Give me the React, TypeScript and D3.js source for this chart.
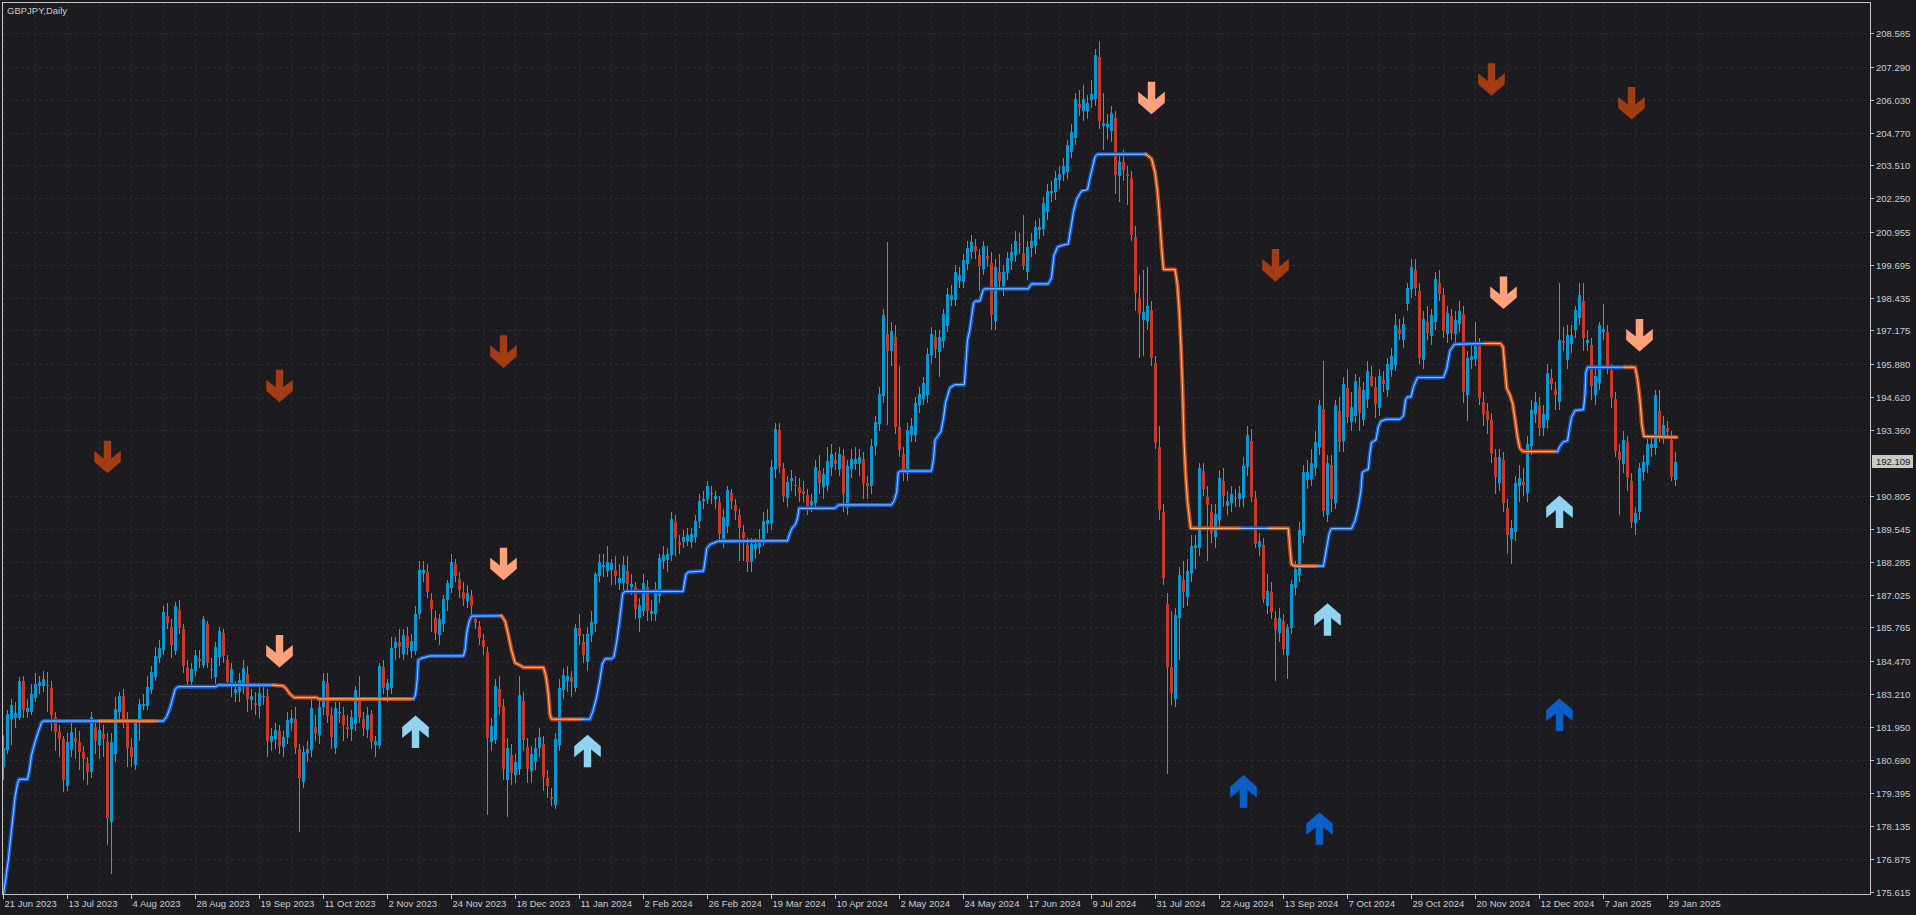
import * as d3 from "d3";

const WIDTH = 1916;
const HEIGHT = 915;
const plot = { left: 3, top: 3, right: 1870, bottom: 894 };

const title = "GBPJPY,Daily";

// one date label every 16 daily bars, starting at the first bar
const dateLabels = [
  "21 Jun 2023", "13 Jul 2023", "4 Aug 2023", "28 Aug 2023", "19 Sep 2023", "11 Oct 2023",
  "2 Nov 2023", "24 Nov 2023", "18 Dec 2023", "11 Jan 2024", "2 Feb 2024", "26 Feb 2024",
  "19 Mar 2024", "10 Apr 2024", "2 May 2024", "24 May 2024", "17 Jun 2024", "9 Jul 2024",
  "31 Jul 2024", "22 Aug 2024", "13 Sep 2024", "7 Oct 2024", "29 Oct 2024", "20 Nov 2024",
  "12 Dec 2024", "7 Jan 2025", "29 Jan 2025",
];
const barsPerLabel = 16;

const priceTicks = [
  208.585, 207.29, 206.03, 204.77, 203.51, 202.25, 200.955, 199.695, 198.435, 197.175,
  195.88, 194.62, 193.36, 190.805, 189.545, 188.285, 187.025, 185.765, 184.47, 183.21,
  181.95, 180.69, 179.395, 178.135, 176.875, 175.615,
];
const lastPrice = 192.109;

// daily candles, oldest first: [open, high, low, close]
const candles: [number, number, number, number][] = [
  // 0
  [180.39, 181.63, 179.9, 181.12], [181.06, 182.6, 180.9, 182.43], [182.23, 183.0, 181.25, 182.78],
  [182.3, 182.9, 181.9, 182.46], [182.3, 183.85, 182.2, 183.71], [183.71, 183.9, 182.3, 182.59],
  [182.53, 183.0, 182.3, 182.66], [182.53, 183.6, 182.4, 183.21], [183.07, 184.0, 182.9, 183.58],
  [183.53, 183.9, 183.2, 183.68], [183.53, 184.1, 183.3, 183.77], [183.55, 184.04, 182.5, 183.51],
  [183.45, 183.7, 181.8, 182.4], [182.32, 182.5, 181.0, 181.76], [181.76, 182.0, 180.8, 181.49],
  [181.48, 181.6, 179.45, 179.9], [179.67, 181.7, 179.5, 181.37], [181.05, 182.1, 180.8, 181.75],
  [181.5, 181.9, 180.7, 181.35], [181.37, 181.8, 180.3, 180.99],
  // 20
  [180.99, 181.2, 179.9, 180.7], [180.57, 180.8, 179.7, 180.22], [180.22, 182.5, 180.0, 182.34],
  [181.94, 182.1, 180.9, 181.42], [181.25, 182.1, 180.7, 181.82], [181.68, 182.0, 180.8, 181.48],
  [181.36, 181.7, 177.4, 178.46], [178.3, 181.7, 176.3, 181.36], [180.92, 183.1, 180.6, 182.63],
  [182.53, 183.3, 182.2, 183.13], [183.13, 183.4, 181.9, 182.25], [182.25, 182.5, 180.4, 181.12],
  [181.17, 181.5, 180.4, 180.77], [180.48, 182.2, 180.3, 182.14], [182.14, 183.0, 181.4, 182.82],
  [182.76, 183.2, 182.6, 182.82], [182.76, 183.9, 182.6, 183.49], [183.36, 184.3, 183.2, 184.04],
  [183.87, 185.0, 183.7, 184.67], [184.58, 185.3, 184.4, 184.96],
  // 40
  [184.9, 186.6, 184.7, 186.37], [186.2, 186.7, 185.7, 185.92], [185.78, 186.1, 184.6, 185.09],
  [184.87, 186.75, 184.7, 186.59], [186.43, 186.8, 185.5, 185.73], [185.7, 185.9, 184.0, 184.3],
  [184.25, 184.5, 183.5, 183.71], [183.68, 184.4, 183.4, 184.16], [184.1, 184.9, 183.9, 184.7],
  [184.55, 184.9, 184.2, 184.47], [184.32, 186.2, 184.2, 186.09], [185.91, 186.0, 184.2, 184.41],
  [184.18, 184.6, 183.8, 184.12], [183.87, 185.2, 183.6, 185.01], [184.62, 185.8, 184.3, 185.63],
  [185.55, 185.7, 184.4, 184.68], [184.51, 184.7, 183.5, 183.68], [183.62, 184.4, 183.1, 184.17],
  [183.23, 183.7, 182.9, 183.39], [183.3, 184.0, 182.9, 183.75],
  // 60
  [183.62, 184.5, 183.2, 184.22], [183.98, 184.3, 182.5, 183.0], [182.98, 183.4, 182.6, 183.13],
  [182.85, 183.3, 182.4, 182.79], [182.74, 183.6, 182.3, 183.23], [183.1, 183.5, 182.8, 183.13],
  [183.13, 183.4, 180.8, 181.41], [181.38, 181.9, 181.0, 181.59], [181.47, 182.1, 181.1, 181.82],
  [181.78, 182.0, 180.9, 181.21], [181.18, 181.8, 180.8, 181.57], [181.57, 182.5, 181.3, 182.21],
  [182.08, 182.6, 181.8, 182.27], [182.25, 182.7, 180.9, 181.15], [181.08, 181.3, 177.92, 179.99],
  [179.84, 181.2, 179.58, 180.99], [180.95, 181.4, 180.6, 181.08], [181.06, 183.0, 180.8, 182.68],
  [181.95, 182.4, 181.4, 181.72], [181.63, 183.0, 181.3, 182.72],
  // 80
  [182.72, 184.0, 182.4, 183.71], [183.64, 184.0, 182.1, 182.36], [182.4, 182.7, 181.1, 181.57],
  [181.15, 182.9, 180.9, 182.68], [182.48, 182.9, 182.1, 182.53], [182.4, 182.7, 181.4, 182.02],
  [181.95, 182.4, 181.5, 181.88], [181.85, 182.6, 181.4, 182.31], [182.05, 183.5, 181.8, 183.36],
  [182.94, 183.9, 182.1, 182.3], [182.23, 182.5, 181.6, 181.89], [181.83, 182.7, 181.5, 182.4],
  [182.44, 182.6, 181.1, 181.37], [181.25, 181.6, 180.8, 181.41], [181.25, 184.4, 181.1, 184.28],
  [184.25, 184.5, 183.2, 183.42], [183.36, 183.8, 182.9, 183.62], [183.42, 185.4, 183.2, 184.96],
  [184.96, 185.4, 184.5, 185.21], [185.21, 185.7, 184.6, 185.02],
  // 100
  [184.74, 185.7, 184.5, 185.47], [185.43, 185.8, 184.7, 184.96], [184.86, 185.5, 184.6, 185.24],
  [184.87, 186.6, 184.7, 186.3], [186.3, 188.3, 186.1, 187.97], [187.84, 188.3, 187.5, 187.97],
  [187.9, 188.2, 186.9, 187.14], [186.82, 187.1, 185.6, 186.46], [186.11, 186.4, 185.3, 185.54],
  [185.47, 186.3, 185.1, 186.08], [185.9, 187.0, 185.6, 186.84], [186.82, 187.6, 186.4, 187.46],
  [187.27, 188.6, 187.1, 188.29], [188.22, 188.4, 187.5, 187.74], [187.61, 187.9, 186.9, 187.2],
  [187.14, 187.5, 186.6, 186.84], [186.79, 187.4, 186.5, 187.1], [186.97, 187.2, 186.3, 186.59],
  [186.08, 186.3, 185.7, 185.95], [185.82, 186.0, 185.1, 185.35],
  // 120
  [185.3, 185.5, 184.7, 185.02], [184.83, 185.0, 178.56, 181.5], [181.38, 182.3, 181.0, 181.98],
  [181.45, 183.8, 181.3, 183.5], [183.39, 183.9, 182.4, 182.7], [182.73, 183.0, 179.9, 180.32],
  [179.89, 181.5, 178.47, 181.12], [180.88, 181.3, 179.7, 180.19], [180.08, 180.9, 179.8, 180.61],
  [180.32, 183.9, 180.1, 183.17], [182.94, 183.3, 181.0, 181.45], [181.18, 181.5, 179.8, 180.32],
  [180.26, 181.2, 179.8, 180.91], [180.59, 181.5, 180.3, 181.14], [181.14, 181.9, 180.8, 181.54],
  [181.28, 181.6, 179.5, 180.03], [179.99, 180.3, 179.2, 179.66], [179.27, 179.6, 178.9, 179.19],
  [178.93, 181.7, 178.8, 181.47], [181.25, 183.8, 181.0, 183.43],
  // 140
  [183.37, 184.2, 183.0, 183.92], [183.7, 184.3, 183.3, 183.89], [183.87, 184.1, 183.1, 183.66],
  [183.43, 185.9, 183.3, 185.75], [185.75, 186.3, 185.1, 185.42], [185.19, 185.5, 184.4, 184.72],
  [184.42, 185.8, 184.1, 185.51], [185.46, 186.4, 185.2, 185.99], [185.88, 187.9, 185.6, 187.8],
  [187.73, 188.6, 187.5, 188.26], [188.1, 188.6, 187.7, 188.18], [187.93, 188.9, 187.7, 188.26],
  [187.97, 188.4, 187.4, 188.23], [187.97, 188.5, 187.4, 187.73], [187.49, 188.2, 187.2, 187.65],
  [187.47, 188.5, 187.2, 188.18], [187.93, 188.5, 187.1, 187.43], [187.3, 187.8, 187.0, 187.44],
  [187.33, 187.5, 186.1, 186.47], [186.14, 186.9, 185.6, 186.61],
  // 160
  [186.41, 187.8, 186.2, 187.47], [187.31, 187.6, 186.0, 186.41], [186.28, 186.8, 186.0, 186.41],
  [186.28, 187.5, 186.0, 187.23], [186.96, 188.6, 186.7, 188.42], [188.33, 188.9, 188.0, 188.53],
  [188.37, 188.8, 187.9, 188.59], [188.53, 190.2, 188.3, 189.92], [189.81, 190.1, 188.5, 189.21],
  [189.05, 189.3, 188.6, 188.92], [189.05, 189.5, 188.8, 189.25], [189.08, 189.6, 188.9, 189.32],
  [189.03, 189.6, 188.8, 189.35], [189.25, 190.1, 189.0, 189.85], [189.85, 190.9, 189.6, 190.62],
  [190.64, 191.0, 190.3, 190.71], [190.7, 191.4, 190.5, 191.2], [190.88, 191.2, 190.5, 190.93],
  [190.71, 191.0, 190.3, 190.8], [190.58, 190.8, 189.1, 189.35],
  // 180
  [189.16, 190.3, 188.8, 190.01], [189.65, 191.2, 189.4, 191.04], [190.93, 191.1, 190.3, 190.62],
  [190.48, 190.7, 189.9, 190.22], [190.08, 190.3, 188.3, 189.58], [189.42, 189.7, 188.3, 189.19],
  [188.92, 189.2, 187.9, 188.29], [188.29, 189.2, 187.9, 188.97], [188.76, 189.2, 188.4, 188.97],
  [188.86, 189.55, 188.6, 189.06], [189.14, 190.2, 188.9, 189.86], [189.72, 190.3, 189.4, 189.89],
  [189.76, 192.2, 189.5, 191.92], [191.86, 193.6, 191.5, 193.39], [193.35, 193.6, 191.7, 191.92],
  [191.89, 192.1, 190.6, 190.81], [190.72, 191.6, 190.4, 191.36], [191.39, 191.8, 191.0, 191.52],
  [191.25, 191.6, 190.8, 191.18], [191.14, 191.5, 190.6, 190.92],
  // 200
  [191.02, 191.4, 190.6, 190.89], [190.86, 191.1, 190.1, 190.42], [190.47, 190.9, 190.2, 190.64],
  [190.56, 192.2, 190.3, 191.92], [191.76, 192.4, 190.9, 191.31], [191.14, 191.9, 190.7, 191.64],
  [191.22, 192.7, 191.0, 192.14], [191.92, 192.8, 191.6, 192.42], [192.19, 192.5, 191.8, 192.05],
  [191.86, 192.7, 191.6, 192.42], [192.35, 192.6, 190.2, 190.89], [190.36, 192.2, 190.1, 191.97],
  [191.86, 192.6, 191.5, 192.25], [192.05, 192.7, 191.8, 192.25], [192.05, 192.6, 191.6, 192.3],
  [192.25, 192.5, 190.7, 191.3], [191.3, 191.6, 190.7, 191.19], [191.19, 193.0, 190.9, 192.75],
  [192.72, 193.9, 192.4, 193.64], [193.59, 195.0, 193.3, 194.75],
  // 220
  [194.64, 198.0, 194.4, 197.75], [197.02, 200.55, 193.55, 196.39], [196.39, 197.5, 195.8, 197.14],
  [196.92, 197.4, 193.2, 193.47], [193.47, 195.8, 192.3, 192.59], [192.42, 192.7, 191.4, 191.86],
  [191.64, 193.6, 191.4, 193.35], [193.14, 193.8, 192.9, 193.52], [193.14, 194.6, 192.9, 194.39],
  [194.3, 195.0, 194.0, 194.75], [194.52, 195.4, 194.3, 195.14], [194.69, 196.5, 194.4, 196.25],
  [196.22, 197.3, 195.9, 197.02], [196.92, 197.2, 196.1, 196.47], [196.35, 197.2, 195.4, 196.92],
  [196.75, 198.0, 196.5, 197.8], [197.35, 198.8, 197.1, 198.58], [198.35, 198.9, 198.1, 198.55],
  [198.35, 199.7, 198.1, 199.42], [199.08, 199.6, 198.8, 199.3],
  // 240
  [199.05, 200.1, 198.8, 199.88], [199.72, 200.6, 199.5, 200.35], [200.18, 200.85, 199.9, 200.58],
  [200.42, 200.7, 199.9, 200.22], [200.08, 200.3, 198.7, 199.63], [199.52, 200.6, 199.3, 200.42],
  [200.04, 200.4, 199.6, 199.9], [199.75, 200.2, 197.2, 197.77], [197.53, 199.9, 197.2, 199.62],
  [199.43, 200.1, 198.8, 199.06], [198.87, 199.7, 198.5, 199.43], [199.38, 200.2, 199.1, 199.94],
  [199.85, 200.5, 199.5, 200.19], [200.07, 201.0, 199.8, 200.6], [200.5, 200.9, 200.1, 200.45],
  [200.13, 201.6, 199.5, 199.66], [199.43, 200.6, 199.1, 200.38], [200.32, 200.9, 200.0, 200.6],
  [200.41, 201.4, 200.1, 201.13], [201.02, 201.5, 200.7, 201.13],
  // 260
  [201.08, 202.3, 200.8, 202.07], [201.73, 202.8, 201.4, 202.53], [202.45, 202.9, 202.1, 202.53],
  [202.49, 203.3, 202.2, 203.02], [202.96, 203.5, 202.6, 203.2], [203.2, 203.8, 202.9, 203.47],
  [203.24, 204.5, 203.0, 204.28], [204.04, 205.1, 203.8, 204.81], [204.56, 206.3, 204.3, 206.07],
  [205.88, 206.4, 205.4, 205.7], [205.6, 206.6, 205.2, 206.07], [205.6, 206.2, 205.3, 205.92],
  [206.02, 206.8, 205.7, 206.26], [206.07, 208.0, 205.8, 207.77], [207.68, 208.3, 204.9, 205.22],
  [205.03, 206.3, 204.1, 205.13], [205.0, 205.5, 204.5, 205.1], [204.85, 205.8, 204.4, 205.51],
  [205.32, 205.6, 202.4, 203.15], [203.09, 203.9, 202.1, 203.66],
  // 280
  [203.66, 204.1, 202.9, 203.34], [203.2, 203.5, 202.0, 203.11], [203.02, 203.3, 200.6, 200.83],
  [200.75, 201.2, 197.9, 198.62], [198.43, 199.3, 196.1, 197.81], [197.58, 199.5, 196.2, 197.87],
  [197.55, 199.6, 197.2, 198.11], [197.96, 198.3, 195.8, 196.11], [195.92, 196.2, 192.6, 192.83],
  [192.68, 193.5, 189.9, 190.27], [190.19, 190.5, 187.4, 187.68], [186.65, 187.1, 180.14, 184.23],
  [184.23, 186.4, 182.8, 183.25], [183.02, 186.5, 182.7, 186.23], [186.12, 188.1, 184.5, 187.78],
  [187.59, 188.3, 186.5, 187.12], [186.93, 188.4, 186.6, 187.93], [187.87, 189.3, 187.5, 188.91],
  [188.82, 189.3, 188.0, 188.95], [188.82, 192.1, 188.5, 191.89],
  // 300
  [191.79, 192.1, 190.8, 191.08], [190.79, 191.2, 188.3, 190.45], [190.19, 190.5, 189.0, 189.38],
  [189.25, 190.5, 188.8, 190.13], [189.89, 191.8, 189.6, 191.51], [191.4, 191.9, 190.4, 190.8],
  [190.42, 191.0, 190.1, 190.64], [190.55, 191.2, 190.2, 190.9], [190.75, 191.1, 190.4, 190.69],
  [190.69, 191.2, 190.4, 190.93], [190.72, 192.3, 190.4, 191.96], [191.93, 193.5, 191.6, 193.16],
  [192.92, 193.4, 190.6, 190.76], [190.73, 191.0, 188.8, 188.98], [188.84, 189.4, 188.5, 189.08],
  [188.93, 189.2, 186.7, 186.87], [186.58, 187.8, 186.3, 187.16], [187.13, 187.5, 186.1, 186.36],
  [186.13, 186.4, 183.7, 185.67], [185.55, 186.5, 185.2, 186.13],
  // 320
  [186.01, 186.3, 184.7, 184.93], [184.69, 185.9, 183.8, 185.79], [185.76, 187.6, 185.5, 187.43],
  [187.27, 188.3, 187.0, 188.02], [187.78, 189.8, 187.5, 189.49], [189.27, 192.0, 189.0, 191.72],
  [191.41, 192.2, 191.1, 191.72], [191.45, 192.6, 191.2, 192.1], [191.89, 193.3, 191.6, 192.87],
  [192.7, 194.5, 192.4, 194.3], [194.16, 196.0, 190.0, 190.25], [190.08, 192.4, 189.8, 192.1],
  [192.01, 192.4, 190.2, 190.69], [190.56, 194.5, 190.3, 194.3], [194.07, 194.6, 192.5, 192.87],
  [192.92, 195.4, 192.5, 195.1], [194.98, 195.7, 193.6, 193.85], [193.64, 194.8, 193.3, 194.24],
  [193.9, 195.5, 193.6, 195.22], [195.01, 195.4, 193.3, 193.99],
  // 340
  [193.73, 195.2, 193.5, 194.88], [194.53, 196.0, 194.2, 195.62], [195.44, 195.8, 195.0, 195.05],
  [195.01, 195.4, 193.8, 194.36], [194.19, 195.7, 193.9, 195.44], [195.27, 195.6, 194.8, 195.1],
  [194.88, 196.1, 194.6, 195.87], [195.67, 196.5, 195.4, 196.18], [195.84, 197.8, 195.6, 197.38],
  [197.21, 197.6, 196.8, 197.04], [196.82, 197.7, 196.5, 197.42], [198.2, 199.0, 197.9, 198.82],
  [198.75, 199.9, 198.4, 199.61], [199.51, 199.9, 198.5, 198.82], [198.7, 199.0, 195.9, 196.13],
  [196.04, 197.9, 195.7, 197.62], [197.5, 198.1, 196.8, 197.07], [196.94, 198.0, 196.6, 197.76],
  [197.5, 199.4, 197.2, 199.16], [198.99, 199.5, 198.3, 198.58],
  // 360
  [198.53, 198.8, 196.9, 197.16], [197.04, 198.1, 196.7, 197.84], [197.72, 198.0, 196.8, 197.07],
  [197.04, 197.9, 196.7, 197.59], [197.42, 198.3, 197.1, 197.93], [197.79, 198.1, 194.4, 194.81],
  [194.7, 196.4, 193.7, 196.13], [196.04, 196.6, 195.7, 196.18], [196.07, 197.5, 195.8, 196.58],
  [196.58, 196.9, 194.3, 194.56], [194.41, 194.8, 193.5, 193.96], [194.06, 194.4, 193.2, 193.72],
  [193.75, 194.0, 192.1, 192.47], [192.3, 192.6, 190.9, 191.56], [191.32, 192.6, 191.0, 192.3],
  [192.18, 192.5, 190.2, 190.53], [190.36, 190.7, 188.6, 189.3], [189.16, 189.9, 188.2, 189.6],
  [189.43, 191.6, 189.1, 191.32], [191.18, 192.0, 190.6, 191.52],
  // 380
  [191.35, 191.9, 190.8, 191.22], [190.93, 193.1, 190.6, 192.81], [192.72, 194.5, 192.4, 194.1],
  [193.96, 194.8, 193.6, 194.41], [194.27, 194.6, 193.1, 193.41], [193.41, 194.3, 193.1, 193.96],
  [193.72, 195.9, 193.4, 195.55], [195.33, 195.7, 194.9, 195.13], [194.87, 195.2, 194.1, 194.69],
  [194.44, 199.0, 194.1, 196.8], [196.75, 197.3, 196.4, 196.7], [196.02, 197.4, 195.7, 196.98],
  [196.67, 197.4, 196.3, 197.01], [197.18, 198.1, 196.9, 197.95], [197.66, 199.0, 197.4, 198.52],
  [198.3, 199.0, 196.4, 196.87], [196.7, 197.2, 196.4, 196.8], [196.63, 196.9, 194.5, 195.04],
  [194.7, 195.7, 194.3, 195.43], [195.16, 197.5, 194.9, 197.39],
  // 400
  [197.11, 198.2, 196.8, 197.22], [197.11, 197.4, 195.5, 195.84], [195.67, 195.9, 194.2, 194.58],
  [194.52, 194.8, 192.3, 192.55], [192.52, 192.8, 190.1, 192.18], [192.04, 193.3, 191.7, 192.98],
  [192.9, 193.1, 191.0, 191.56], [191.39, 191.7, 189.6, 189.81], [189.78, 190.4, 189.33, 190.15],
  [190.19, 192.1, 189.9, 191.87], [191.73, 192.4, 191.4, 192.12], [192.0, 193.0, 191.7, 192.81],
  [192.64, 193.1, 192.3, 192.81], [192.64, 194.9, 192.4, 194.7], [194.06, 194.9, 192.9, 193.1],
  [193.15, 193.9, 192.8, 193.55], [193.41, 193.7, 193.0, 193.27], [192.98, 193.3, 191.4, 191.56],
  [191.44, 192.5, 191.2, 192.109],
];

// trailing stop vertices: [bar, price, trend]; trend colours the segment that starts there
const stopLine: [number, number, number][] = [
  [0, 175.5, 1], [1.2, 176.83, 1], [2.0, 177.98, 1], [2.9, 179.26, 1], [3.5, 179.77, 1],
  [3.9, 179.93, 1], [6.0, 179.93, 1], [6.5, 180.29, 1], [7.0, 180.86, 1], [7.9, 181.37, 1],
  [8.7, 181.76, 1], [9.5, 182.11, 1], [10.0, 182.17, 1], [24.1, 182.17, -1], [38.7, 182.17, 1],
  [40.0, 182.17, 1], [40.8, 182.34, 1], [41.6, 182.66, 1], [42.3, 183.04, 1], [42.9, 183.39, 1],
  [43.7, 183.49, 1], [53.1, 183.49, 1], [53.7, 183.55, 1], [67.5, 183.55, -1], [70.0, 183.52, -1],
  [70.8, 183.39, -1], [71.6, 183.21, -1], [72.7, 183.07, -1], [78.3, 183.07, -1], [78.7, 183.02, -1],
  [102.5, 183.02, 1], [103.0, 183.17, 1], [103.4, 183.74, 1], [103.7, 184.51, 1], [104.5, 184.58, 1],
  [106.6, 184.67, 1], [115.0, 184.67, 1], [115.4, 184.9, 1], [115.8, 185.54, 1], [116.4, 185.99, 1],
  [117.0, 186.2, 1], [124.5, 186.21, -1], [125.4, 186.01, -1], [126.2, 185.48, -1], [127.0, 184.89, -1],
  [127.9, 184.4, -1], [129.0, 184.32, -1], [130.0, 184.23, -1], [135.0, 184.23, -1], [135.6, 183.9, -1],
  [136.2, 183.24, -1], [136.6, 182.44, -1], [137.0, 182.24, -1], [145.0, 182.24, 1], [146.6, 182.24, 1],
  [147.4, 182.57, 1], [148.3, 183.1, 1], [149.1, 183.76, 1], [149.7, 184.36, 1], [150.4, 184.56, 1],
  [152.0, 184.56, 1], [152.6, 184.63, 1], [153.3, 185.22, 1], [153.9, 185.88, 1], [154.4, 186.54, 1],
  [154.8, 187.07, 1], [155.4, 187.15, 1], [169.9, 187.15, 1], [170.6, 187.8, 1], [171.2, 187.89, 1],
  [175.0, 187.93, 1], [175.4, 188.33, 1], [175.8, 188.79, 1], [176.6, 188.95, 1], [178.7, 189.08, 1],
  [196.0, 189.09, 1], [196.6, 189.39, 1], [197.2, 189.59, 1], [198.0, 189.72, 1], [198.5, 189.97, 1],
  [198.9, 190.34, 1], [207.9, 190.34, 1], [208.7, 190.47, 1], [222.0, 190.47, 1], [222.7, 190.64, 1],
  [223.3, 190.97, 1], [223.7, 191.72, 1], [224.3, 191.77, 1], [232.0, 191.77, 1], [232.5, 192.22, 1],
  [232.9, 192.97, 1], [233.7, 193.14, 1], [234.4, 193.3, 1], [235.0, 193.8, 1], [235.5, 194.39, 1],
  [236.6, 194.97, 1], [237.9, 195.09, 1], [240.2, 195.09, 1], [240.5, 195.72, 1], [241.0, 196.8, 1],
  [241.6, 197.22, 1], [242.5, 198.22, 1], [243.0, 198.3, 1], [244.1, 198.3, 1], [244.9, 198.72, 1],
  [245.3, 198.77, 1], [256.2, 198.77, 1], [257.0, 198.96, 1], [261.2, 198.96, 1], [262.0, 199.19, 1],
  [262.6, 200.04, 1], [263.5, 200.38, 1], [264.8, 200.45, 1], [266.2, 200.49, 1], [266.8, 201.07, 1],
  [267.5, 201.73, 1], [268.3, 202.21, 1], [269.5, 202.53, 1], [271.0, 202.58, 1], [271.8, 203.15, 1],
  [272.9, 203.85, 1], [273.5, 203.94, 1], [285.6, 203.94, -1], [287.0, 203.77, -1], [287.9, 203.24, -1],
  [288.5, 202.49, -1], [289.0, 201.54, -1], [289.5, 200.41, -1], [290.0, 199.51, -1], [292.9, 199.51, -1],
  [293.5, 198.9, -1], [294.0, 197.77, -1], [294.4, 196.45, -1], [294.8, 194.76, -1], [295.1, 193.06, -1],
  [295.5, 191.74, -1], [296.0, 190.61, -1], [296.8, 189.57, -1], [309.4, 189.57, 1], [316.6, 189.57, -1],
  [321.2, 189.57, -1], [321.6, 188.84, -1], [322.0, 188.19, -1], [322.9, 188.12, -1], [328.7, 188.12, 1],
  [330.0, 188.12, 1], [330.8, 188.84, 1], [331.4, 189.36, 1], [331.9, 189.56, 1], [337.0, 189.56, 1],
  [337.9, 189.87, 1], [338.7, 190.39, 1], [339.4, 191.07, 1], [339.7, 191.72, 1], [340.4, 191.79, 1],
  [341.2, 191.84, 1], [341.6, 192.44, 1], [342.0, 192.87, 1], [343.1, 192.96, 1], [343.7, 193.47, 1],
  [344.4, 193.7, 1], [345.8, 193.76, 1], [349.1, 193.76, 1], [350.0, 193.9, 1], [350.5, 194.5, 1],
  [351.0, 194.62, 1], [351.9, 194.62, 1], [352.5, 195.02, 1], [353.5, 195.36, 1], [360.0, 195.36, 1],
  [360.8, 195.7, 1], [361.6, 196.39, 1], [362.7, 196.64, 1], [370.4, 196.67, -1], [374.3, 196.67, -1],
  [374.9, 196.53, -1], [375.4, 195.64, -1], [375.8, 194.95, -1], [376.6, 194.7, -1], [377.3, 194.35, -1],
  [377.9, 193.75, -1], [378.5, 193.07, -1], [379.1, 192.64, -1], [379.9, 192.52, -1], [388.5, 192.52, 1],
  [389.1, 192.72, 1], [390.0, 192.9, 1], [391.0, 192.93, 1], [391.5, 193.41, 1], [392.0, 193.84, 1],
  [392.9, 194.1, 1], [395.0, 194.13, 1], [395.4, 194.78, 1], [395.6, 195.55, 1], [396.0, 195.76, 1],
  [405.4, 195.76, -1], [407.9, 195.76, -1], [408.5, 195.3, -1], [409.1, 194.52, -1], [409.6, 193.58, -1],
  [410.1, 193.1, -1], [418.3, 193.07, -1],
];

// signal arrows: [bar, price at arrow centre]
const strongSell: [number, number][] = [[26, 192.31], [69, 195.04], [125, 196.36], [318, 199.67], [372, 206.81], [407, 205.9]];
const sell: [number, number][] = [[69, 184.85], [125, 188.2], [287, 206.1], [375, 198.62], [409, 196.99]];
const buy: [number, number][] = [[103, 181.76], [146, 181.02], [331, 186.07], [389, 190.21]];
const strongBuy: [number, number][] = [[310, 179.47], [329, 178.04], [389, 182.41]];

const BG = "#1c1c20";
const GRID = "#2b2b31";
const FRAME = "#c4c4c4";
const TEXT = "#c8ccd4";
const BULL = "#0b97d3";
const BEAR = "#c63a26";
const WICK = "#858585";
const FONT = "'Liberation Sans', Arial, sans-serif";

// arrow outline pointing down, centred on 0,0
const arrowDown: [number, number][] = [
  [-3.7, -16.3], [3.7, -16.3], [3.7, 1.4], [13.3, -6.3], [13.3, 4.7],
  [0, 16.3], [-13.3, 4.7], [-13.3, -6.3], [-3.7, 1.4],
];

export default function App() {
  const x = d3.scaleLinear().domain([0, 1]).range([3.5, 7.5]);
  const y = d3.scaleLinear().domain([175.615, 208.585]).range([891.7, 33.3]);

  const line = d3
    .line<[number, number]>()
    .x((d) => x(d[0]))
    .y((d) => y(d[1]));

  // split the stop line into runs of one colour
  const runs: { trend: number; pts: [number, number][] }[] = [];
  stopLine.forEach(([b, p, t]) => {
    const last = runs[runs.length - 1];
    if (!last || last.trend !== t) {
      if (last) last.pts.push([b, p]);
      runs.push({ trend: t, pts: [[b, p]] });
    } else {
      last.pts.push([b, p]);
    }
  });

  const arrowPath = (b: number, p: number, up: boolean) => {
    const cx = x(b);
    const cy = y(p);
    return (
      "M" +
      arrowDown.map(([dx, dy]) => `${cx + dx},${cy + (up ? -dy : dy)}`).join("L") +
      "Z"
    );
  };

  const vGrid = d3.range(0, dateLabels.length * 2).map((k) => Math.round(x(k * (barsPerLabel / 2)) - 0.5));
  const fmt = d3.format(".3f");

  return (
    <div style={{ position: "fixed", left: 0, top: 0, width: WIDTH, height: HEIGHT, background: BG }}>
      <svg width={WIDTH} height={HEIGHT} style={{ display: "block" }}>
        <defs>
          <clipPath id="plotClip">
            <rect x={plot.left} y={plot.top} width={plot.right - plot.left} height={plot.bottom - plot.top} />
          </clipPath>
        </defs>
        <rect width={WIDTH} height={HEIGHT} fill={BG} />

        {/* grid */}
        <g stroke={GRID} strokeWidth={1} strokeDasharray="3,3" shapeRendering="crispEdges">
          {priceTicks.map((t) => (
            <line key={"h" + t} x1={plot.left} x2={plot.right} y1={Math.round(y(t)) + 0.5} y2={Math.round(y(t)) + 0.5} />
          ))}
          {vGrid.map((gx, i) => (
            <line key={"v" + i} x1={gx + 0.5} x2={gx + 0.5} y1={plot.top} y2={plot.bottom} />
          ))}
        </g>

        <g clipPath="url(#plotClip)">
          {/* wicks */}
          <g fill={WICK} shapeRendering="crispEdges">
            {candles.map(([, h, l], i) => (
              <rect key={i} x={x(i) - 0.5} y={y(h)} width={1} height={Math.max(1, y(l) - y(h))} />
            ))}
          </g>
          {/* bodies */}
          <g shapeRendering="crispEdges">
            {candles.map(([o, , , c], i) => {
              const top = y(Math.max(o, c));
              const hgt = Math.max(1, Math.abs(y(o) - y(c)));
              return (
                <rect key={i} x={x(i) - 1.5} y={top} width={3} height={hgt} fill={c >= o ? BULL : BEAR} />
              );
            })}
          </g>

          {/* trailing stop: dark outer stroke, light inner stroke */}
          <g fill="none" strokeLinejoin="round" strokeLinecap="round">
            {runs.map((r, i) => (
              <path key={"o" + i} d={line(r.pts) ?? ""} stroke={r.trend > 0 ? "#0f5bd0" : "#c24c16"} strokeWidth={4} />
            ))}
            {runs.map((r, i) => (
              <path key={"i" + i} d={line(r.pts) ?? ""} stroke={r.trend > 0 ? "#9ccaff" : "#ffbf94"} strokeWidth={1} />
            ))}
          </g>

          {/* signal arrows */}
          {strongSell.map(([b, p], i) => (
            <path key={"ss" + i} d={arrowPath(b, p, false)} fill="#a23c12" />
          ))}
          {sell.map(([b, p], i) => (
            <path key={"s" + i} d={arrowPath(b, p, false)} fill="#ffa27c" />
          ))}
          {buy.map(([b, p], i) => (
            <path key={"b" + i} d={arrowPath(b, p, true)} fill="#8fd3f0" />
          ))}
          {strongBuy.map(([b, p], i) => (
            <path key={"sb" + i} d={arrowPath(b, p, true)} fill="#0b5fc6" />
          ))}
        </g>

        {/* frame */}
        <rect
          x={plot.left - 0.5}
          y={plot.top - 0.5}
          width={plot.right - plot.left + 1}
          height={plot.bottom - plot.top + 1}
          fill="none"
          stroke={FRAME}
          strokeWidth={1}
          shapeRendering="crispEdges"
        />

        <text x={7} y={14} fill={TEXT} fontFamily={FONT} fontSize={9.5}>
          {title}
        </text>

        {/* price axis */}
        <g fontFamily={FONT} fontSize={9.5} fill={TEXT}>
          {priceTicks.map((t) => {
            const ty = Math.round(y(t)) + 0.5;
            return (
              <g key={t}>
                <line x1={plot.right + 1} x2={plot.right + 4} y1={ty} y2={ty} stroke={FRAME} shapeRendering="crispEdges" />
                <text x={plot.right + 6} y={ty + 3.4}>
                  {fmt(t)}
                </text>
              </g>
            );
          })}
          <rect x={plot.right + 2} y={Math.round(y(lastPrice)) - 7} width={41} height={13} fill="#c8c8c8" />
          <text x={plot.right + 6} y={Math.round(y(lastPrice)) + 3.4} fill="#1a1a1a">
            {fmt(lastPrice)}
          </text>
        </g>

        {/* date axis */}
        <g fontFamily={FONT} fontSize={9.5} fill={TEXT}>
          {dateLabels.map((lab, k) => {
            const tx = Math.round(x(k * barsPerLabel) - 0.5) + 0.5;
            return (
              <g key={lab}>
                <line x1={tx} x2={tx} y1={plot.bottom + 1} y2={plot.bottom + 5} stroke={FRAME} shapeRendering="crispEdges" />
                <text x={tx + 1} y={907}>
                  {lab}
                </text>
              </g>
            );
          })}
        </g>
      </svg>
    </div>
  );
}
